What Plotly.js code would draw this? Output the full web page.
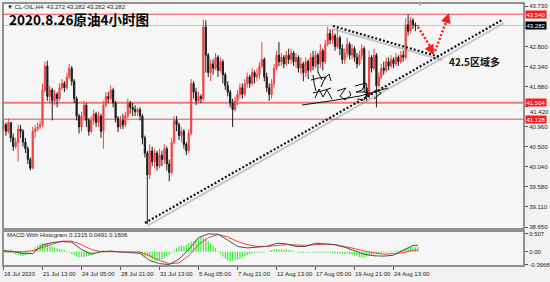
<!DOCTYPE html>
<html><head><meta charset="utf-8">
<script src="https://cdn.plot.ly/plotly-3.0.1.min.js"></script>
<style>html,body{margin:0;padding:0;background:#f2f2f2;}#chart{width:550px;height:282px;}</style>
</head><body><div id="chart"></div>
<script>
// ---------- DATA ----------
const firstOpen = 40.90;
const closeP = [
41.00,40.85,41.05,40.70,40.50,40.60,40.90,40.85,40.60,40.45,
40.20,40.00,40.85,40.90,40.95,41.00,41.80,42.35,41.65,41.80,
41.55,41.70,41.60,41.85,41.95,41.85,42.10,42.30,42.00,41.60,
41.20,40.95,41.20,41.45,41.10,40.85,41.10,41.25,41.05,41.20,
40.85,41.45,41.65,41.60,41.80,41.50,41.15,40.95,41.10,41.00,
41.20,41.50,41.40,41.35,41.30,41.35,41.20,40.70,40.35,39.85,
40.40,40.15,40.35,40.05,40.30,40.20,40.45,40.10,39.90,40.60,
41.10,41.00,40.75,40.85,40.55,40.40,40.80,41.95,41.75,41.55,
41.65,41.60,43.25,42.60,42.20,42.40,42.30,42.55,42.25,42.45,
42.15,41.90,41.75,41.50,41.35,41.55,41.70,41.85,41.70,41.95,
42.10,41.95,42.20,42.10,42.15,42.35,42.50,42.10,41.85,41.70,
41.95,42.30,42.60,42.45,42.55,42.40,42.60,42.50,42.65,42.45,
42.55,42.30,42.40,42.20,42.45,42.25,42.55,42.35,42.60,42.40,
42.70,42.45,42.85,43.10,42.95,43.05,42.80,43.00,42.75,42.50,
42.65,42.85,42.60,42.75,42.55,42.40,42.60,42.75,41.85,41.65,
42.55,42.30,42.60,41.90,42.10,42.30,42.25,42.45,42.35,42.50,
42.40,42.55,42.45,42.60,42.55,43.30,43.15,43.40,43.30,43.272,
43.282];
const highP = [
41.10,41.05,41.15,41.05,40.80,40.70,41.00,41.00,40.90,40.70,
40.50,40.25,40.95,41.00,41.05,41.10,41.95,42.45,42.47,41.90,
41.85,41.80,41.75,41.95,42.05,42.00,42.20,42.40,42.35,42.05,
41.65,41.25,41.30,41.55,41.50,41.15,41.20,41.35,41.30,41.30,
41.25,41.55,41.75,41.75,41.90,41.85,41.55,41.20,41.20,41.25,
41.30,41.60,41.55,41.50,41.45,41.40,41.40,41.25,40.75,40.40,
40.55,40.50,40.45,40.40,40.45,40.40,40.55,40.50,40.20,40.70,
41.20,41.20,41.05,40.95,40.90,40.60,40.90,42.05,42.00,41.85,
41.75,41.70,43.42,43.40,42.65,42.50,42.50,42.65,42.60,42.55,
42.50,42.20,42.00,41.80,41.60,41.65,41.80,41.95,41.95,42.05,
42.20,42.15,42.30,42.25,42.30,42.45,42.90,42.55,42.20,41.95,
42.05,42.40,42.70,42.90,42.65,42.60,42.70,42.75,42.75,42.70,
42.65,42.60,42.55,42.45,42.55,42.50,42.65,42.70,42.70,42.65,
42.85,42.75,42.95,43.25,43.20,43.20,43.10,43.25,43.05,42.85,
42.75,43.00,42.90,42.85,42.80,42.65,42.70,42.85,42.80,41.95,
42.70,42.60,42.75,42.65,42.20,42.40,42.45,42.55,42.55,42.60,
42.55,42.65,42.60,42.70,42.70,43.45,43.54,43.48,43.45,43.35,
43.282];
const lowP = [
40.85,40.75,40.80,40.60,40.40,40.45,40.15,40.70,40.50,40.35,
40.10,39.95,39.98,40.70,40.85,40.90,40.95,41.75,41.55,41.50,
41.10,41.45,41.40,41.55,41.80,41.75,41.80,42.05,41.90,41.50,
41.10,40.80,40.85,41.10,40.95,40.75,40.80,41.00,40.95,40.95,
40.70,40.45,41.40,41.50,41.55,41.40,41.05,40.83,40.90,40.90,
40.95,41.15,41.25,41.20,41.20,41.20,41.10,40.55,40.25,38.72,
39.75,40.05,40.00,39.95,40.00,40.05,40.10,39.95,39.70,39.85,
40.55,40.85,40.65,40.60,40.45,40.30,40.35,40.75,41.60,41.45,
41.50,41.50,41.55,42.20,42.10,42.00,42.15,42.25,42.10,42.20,
41.95,41.80,41.65,41.40,40.95,41.30,41.45,41.60,41.60,41.65,
41.85,41.85,41.90,41.95,42.00,42.05,42.30,42.00,41.75,41.55,
41.60,41.85,42.25,42.35,42.35,42.30,42.35,42.40,42.40,42.35,
42.30,42.20,42.15,42.00,42.10,42.05,42.20,42.25,42.30,42.20,
42.30,42.25,42.40,42.80,42.85,42.85,42.70,42.75,42.60,42.40,
42.40,42.55,42.50,42.50,42.45,42.30,42.35,42.50,41.75,41.55,
41.60,42.20,42.25,41.40,41.85,42.05,42.15,42.20,42.25,42.30,
42.30,42.35,42.35,42.40,42.45,42.50,43.05,43.10,43.20,43.15,
43.262];
const histogram = [
-0.03,-0.03,-0.03,-0.04,-0.05,-0.07,-0.09,-0.11,-0.12,-0.10,
-0.06,-0.02,0.05,0.12,0.18,0.22,0.24,0.24,0.22,0.18,
0.15,0.12,0.10,0.08,0.06,0.04,0.02,-0.02,-0.06,-0.10,
-0.14,-0.16,-0.16,-0.15,-0.13,-0.12,-0.10,-0.07,-0.03,0.01,
0.03,0.04,0.03,0.02,0.01,0.01,0.00,-0.01,0.01,0.00,
-0.01,0.00,0.01,-0.01,-0.02,-0.03,-0.06,-0.10,-0.12,-0.14,
-0.17,-0.22,-0.25,-0.26,-0.25,-0.22,-0.18,-0.14,-0.09,-0.03,
0.04,0.10,0.15,0.18,0.16,0.20,0.24,0.28,0.30,0.35,
0.38,0.42,0.40,0.36,0.30,0.24,0.18,0.10,0.02,-0.06,
-0.14,-0.20,-0.25,-0.28,-0.26,-0.24,-0.22,-0.20,-0.17,-0.14,
-0.10,-0.07,-0.05,-0.03,-0.02,-0.03,-0.04,-0.02,0.00,0.03,
0.05,0.06,0.07,0.07,0.06,0.05,0.06,0.05,0.04,0.02,
0.00,-0.02,-0.03,-0.03,-0.02,-0.03,-0.02,-0.02,-0.03,-0.03,
-0.02,-0.03,-0.04,-0.03,-0.04,-0.05,-0.05,-0.06,-0.06,-0.07,
-0.06,-0.06,-0.07,-0.08,-0.10,-0.12,-0.15,-0.17,-0.16,-0.14,
-0.12,-0.10,-0.08,-0.06,-0.05,-0.04,-0.03,-0.02,0.00,0.01,
0.01,0.02,0.03,0.05,0.07,0.09,0.11,0.14,0.15,0.13,
0.1315];
const macdIdx = [0,4,8,12,16,20,24,28,32,36,40,44,48,52,56,60,64,68,72,76,80,84,88,92,96,100,104,108,112,116,120,124,128,132,136,140,144,148,152,156,160,164,168,170];
const macdMain = [0.036,0.009,-0.054,-0.054,0.19,0.26,0.29,0.27,0.063,-0.072,0.0,0.018,-0.009,-0.027,-0.045,-0.25,-0.34,-0.3668,-0.21,0.063,0.40,0.507,0.50,0.33,0.15,0.108,0.135,0.15,0.24,0.225,0.15,0.15,0.24,0.23,0.20,0.126,0.018,-0.072,-0.117,-0.126,-0.10,0.036,0.18,0.1806];
const macdSignal = [0,0,0,0.027,0.126,0.216,0.30,0.30,0.20,0.063,0,0,0,-0.009,-0.009,-0.117,-0.25,-0.34,-0.32,-0.117,0.20,0.40,0.49,0.42,0.29,0.20,0.15,0.15,0.17,0.20,0.19,0.18,0.20,0.216,0.20,0.15,0.09,0.018,-0.036,-0.072,-0.054,-0.027,0.036,0.0491];
const dateLabelIdx = [0,16,32,48,64,80,96,112,128,144,160];
const dateLabels = ["16 Jul 2020","21 Jul 13:00","24 Jul 05:00","28 Jul 21:00","31 Jul 13:00","5 Aug 05:00","7 Aug 21:00","12 Aug 13:00","17 Aug 05:00","19 Aug 21:00","24 Aug 13:00"];
const priceTicks = [43.730,42.800,42.340,41.880,41.420,40.960,40.500,40.040,39.580,39.110,38.650];
const crowdedTick = 41.420;   // partly hidden behind the 41.504 box in the reference
const macdTicks = [0.507,0,-0.3668];
const macdTickText = ["0.507","0.00","-0.3668"];
const levelPrices = [43.540,41.504,41.128];
const bidPrice = 43.282;
const titleText = "2020.8.26原油4小时图";
const headerText = "▼ CL-OIL,H4  43.272 43.282 43.262 43.282";
const macdHeader = "MACD With Histogram 0.1315 0.0491 0.1806";
const noteText = "42.5区域多";

// ---------- geometry helpers (pixel <-> axes) ----------
const PL=3, PR=524, PT=3, PB=266, MAINB=229, MACDT=231;
const X0=-0.2, X1=213.54, Y0=38.604, Y1=43.799, M0=-0.408, M1=0.59;
const px2x = px => X0+(px-PL)/(PR-PL)*(X1-X0);
const py2y = py => Y1-(py-PT)/(MAINB-PT)*(Y1-Y0);
const pxp = px => (px-PL)/(PR-PL);
const pyp = py => (PB-py)/(PB-PT);

const idx = closeP.map((_,i)=>i);
const openP = [firstOpen].concat(closeP.slice(0,-1));

const RED='#f04444', BLK='#1c1c1c';
const traces = [
 {type:'candlestick', x:idx, open:openP, high:highP, low:lowP, close:closeP, xaxis:'x', yaxis:'y',
  increasing:{line:{color:RED,width:1},fillcolor:RED}, decreasing:{line:{color:BLK,width:1},fillcolor:BLK},
  whiskerwidth:0, hoverinfo:'skip', showlegend:false},
 {type:'bar', x:idx, y:histogram, xaxis:'x', yaxis:'y2', marker:{color:'#22ee22',line:{width:0}}, width:0.45, showlegend:false, hoverinfo:'skip'},
 {type:'scatter', mode:'lines', x:macdIdx, y:macdSignal, xaxis:'x', yaxis:'y2', line:{color:'#ff3c3c',width:1}, showlegend:false, hoverinfo:'skip'},
 {type:'scatter', mode:'lines', x:macdIdx, y:macdMain, xaxis:'x', yaxis:'y2', line:{color:'#505050',width:1}, showlegend:false, hoverinfo:'skip'}
];

const shapes = [];
const levelColors = ['#ee4a4a','#f07878','#e84a4a'];
const levelWidths = [1.2,2,1];
levelPrices.forEach((p,k)=>shapes.push({type:'line',xref:'paper',x0:0,x1:1,yref:'y',y0:p,y1:p,line:{color:levelColors[k],width:levelWidths[k]},layer:'below'}));
shapes.push({type:'line',xref:'paper',x0:0,x1:1,yref:'y',y0:bidPrice,y1:bidPrice,line:{color:'#c4c4c4',width:1},layer:'below'});
function seg(p1,p2,color,width,dash){
  return {type:'line',xref:'x',yref:'y',x0:px2x(p1[0]),y0:py2y(p1[1]),x1:px2x(p2[0]),y1:py2y(p2[1]),line:{color:color,width:width,dash:dash}};
}
// trendlines: shadow then dotted
shapes.push(seg([147,226],[504,23],'rgba(110,110,110,0.35)',2,'solid'));
shapes.push(seg([333,29],[442,60],'rgba(110,110,110,0.35)',2,'solid'));
shapes.push(seg([145,223],[502,20],'#111',2.2,'2px,2px'));
shapes.push(seg([333,26],[440,57],'#111',2.2,'2px,2px'));
// red forecast path
shapes.push(seg([418,27],[433,51],'#ff1a1a',2.5,'2px,2px'));
shapes.push(seg([435,51],[448,17],'#ff1a1a',2.5,'2px,2px'));
// handwritten signature (decoration)
const strokes = [
 [[302,105],[330,101],[360,96],[388,88]],
 [[313,75],[314,83],[316,91]],
 [[311,80],[319,78],[326,77],[323,82],[321,87]],
 [[318,72],[320,76],[322,80]],
 [[324,79],[329,74],[331,81]],
 [[313,93],[322,91],[331,88]],
 [[315,98],[319,89],[323,97],[327,90],[332,99]],
 [[337,91],[346,88],[340,96],[345,100],[351,95],[349,91]],
 [[355,86],[366,83],[362,90],[356,92],[368,92],[364,100],[357,99]],
 [[369,95],[376,90],[381,93],[374,99]]
];
strokes.forEach(s=>{
  const d = s.map((p,k)=>(k?'L':'M')+px2x(p[0]).toFixed(3)+','+py2y(p[1]).toFixed(4)).join(' ');
  shapes.push({type:'path',xref:'x',yref:'y',path:d,line:{color:'#111',width:1}});
});
// panel frames
shapes.push({type:'rect',xref:'paper',yref:'y domain',x0:0,x1:1,y0:0,y1:1,line:{color:'#707070',width:1.5},layer:'above'});
shapes.push({type:'rect',xref:'paper',yref:'y2 domain',x0:0,x1:1,y0:0,y1:1,line:{color:'#707070',width:1.5},layer:'above'});

const small = {family:'Liberation Sans, Arial, sans-serif', size:6, color:'#222'};
const annotations = [];
annotations.push({xref:'paper',yref:'paper',x:pxp(5),y:pyp(7),xanchor:'left',yanchor:'middle',text:headerText,showarrow:false,font:small});
annotations.push({xref:'paper',yref:'paper',x:pxp(7),y:pyp(18.5),xanchor:'left',yanchor:'middle',text:'<b>'+titleText+'</b>',showarrow:false,font:{family:'Noto Sans CJK SC, sans-serif',size:13.5,color:'#000'}});
annotations.push({xref:'paper',yref:'paper',x:pxp(5),y:pyp(235),xanchor:'left',yanchor:'middle',text:macdHeader,showarrow:false,font:small});
annotations.push({xref:'paper',yref:'paper',x:pxp(420),y:pyp(4.5),xanchor:'center',yanchor:'middle',text:'▼',showarrow:false,font:{family:'DejaVu Sans',size:5,color:'#aaa'}});
annotations.push({xref:'paper',yref:'paper',x:pxp(474),y:pyp(61.5),xanchor:'center',yanchor:'middle',text:'<b>'+noteText+'</b>',showarrow:false,font:{family:'Noto Sans CJK SC, sans-serif',size:10,color:'#111'}});
dateLabelIdx.forEach((ix,k)=>annotations.push({xref:'x',yref:'paper',x:ix,y:pyp(273.5),xanchor:'left',yanchor:'middle',xshift:-1,text:dateLabels[k],showarrow:false,font:small}));
// crowded tick label drawn slightly below the red box so both stay readable
annotations.push({xref:'paper',yref:'paper',x:1,y:pyp(111.5),xanchor:'left',yanchor:'middle',xshift:4,text:crowdedTick.toFixed(3),showarrow:false,font:small});
levelPrices.forEach(p=>annotations.push({xref:'paper',yref:'y',x:1,y:p,xanchor:'left',yanchor:'middle',xshift:1,text:p.toFixed(3),showarrow:false,bgcolor:'#ff1a1a',borderpad:0.5,font:{family:small.family,size:6,color:'#fff'}}));
annotations.push({xref:'paper',yref:'y',x:1,y:bidPrice,xanchor:'left',yanchor:'middle',xshift:1,text:bidPrice.toFixed(3),showarrow:false,bgcolor:'#000',borderpad:0.5,font:{family:small.family,size:6,color:'#fff'}});
// arrowheads on red path
annotations.push({xref:'x',yref:'y',x:px2x(434),y:py2y(55),ax:-5,ay:-9,text:'',showarrow:true,arrowhead:2,arrowsize:1,arrowwidth:2,arrowcolor:'#ff1a1a',standoff:0});
annotations.push({xref:'x',yref:'y',x:px2x(449),y:py2y(13),ax:-3,ay:9,text:'',showarrow:true,arrowhead:2,arrowsize:1,arrowwidth:2,arrowcolor:'#ff1a1a',standoff:0});

const layout = {
  width:550, height:282, margin:{l:PL,r:550-PR,t:PT,b:282-PB},
  paper_bgcolor:'#f2f2f2', plot_bgcolor:'#f6f6f6', showlegend:false, hovermode:false,
  xaxis:{domain:[0,1],range:[X0,X1],anchor:'y2',showgrid:false,zeroline:false,showline:false,
    tickmode:'array',tickvals:dateLabelIdx,ticktext:dateLabels,showticklabels:false,ticks:'outside',ticklen:3,tickcolor:'#555',
    rangeslider:{visible:false},fixedrange:true},
  yaxis:{domain:[(PB-MAINB)/(PB-PT),1],range:[Y0,Y1],anchor:'x',side:'right',showgrid:false,zeroline:false,showline:false,
    tickmode:'array',tickvals:priceTicks,ticktext:priceTicks.map(v=>v===crowdedTick?'':v.toFixed(3)),ticks:'outside',ticklen:3,tickcolor:'#555',
    tickfont:small,fixedrange:true},
  yaxis2:{domain:[0,(PB-MACDT)/(PB-PT)],range:[M0,M1],anchor:'x',side:'right',showgrid:false,zeroline:false,showline:false,
    tickmode:'array',tickvals:macdTicks,ticktext:macdTickText,ticks:'outside',ticklen:3,tickcolor:'#555',tickfont:small,fixedrange:true},
  shapes:shapes, annotations:annotations, bargap:0.5
};
Plotly.newPlot('chart', traces, layout, {staticPlot:true, displayModeBar:false});
</script>
</body></html>
